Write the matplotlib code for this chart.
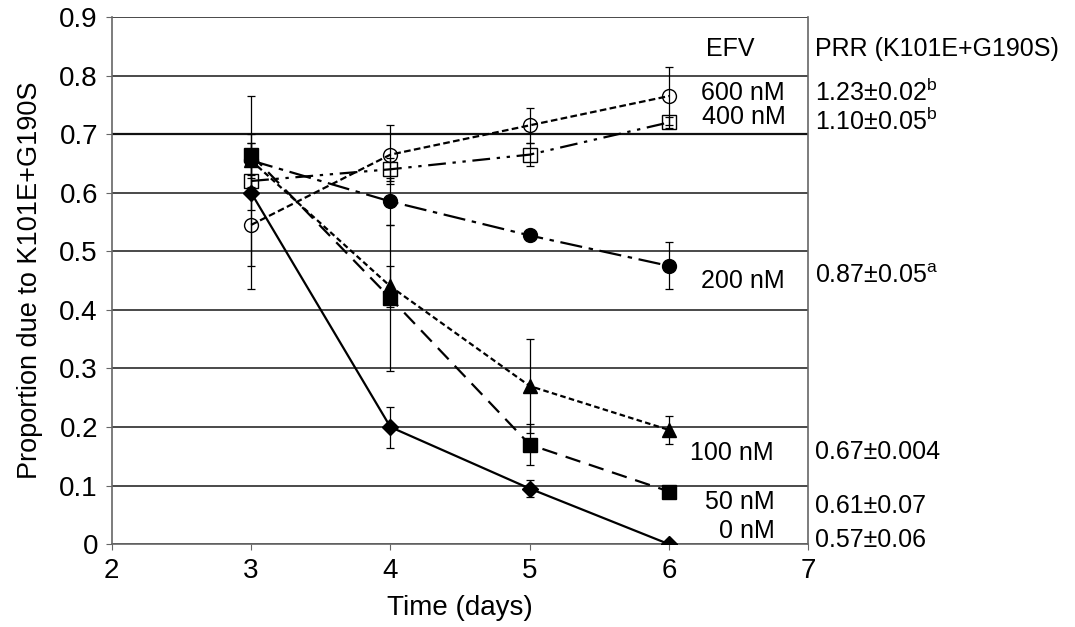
import numpy as np
import matplotlib
matplotlib.use("Agg")
import matplotlib.pyplot as plt

plt.rcParams['font.family'] = ['Liberation Sans', 'DejaVu Sans']
plt.rcParams['mathtext.fontset'] = 'custom'
plt.rcParams['mathtext.rm'] = 'Liberation Sans'

# Data
days = [3, 4, 5, 6]
efv_labels = ["600 nM", "400 nM", "200 nM", "100 nM", "50 nM", "0 nM"]
prr_labels = ["1.23±0.02$^\\mathrm{b}$", "1.10±0.05$^\\mathrm{b}$", "0.87±0.05$^\\mathrm{a}$",
              "0.67±0.004", "0.61±0.07", "0.57±0.06"]

p600 = [0.545, 0.665, 0.715, 0.765]
e600 = [0.11, 0.05, 0.03, 0.05]
p400 = [0.62, 0.64, 0.665, 0.72]
e400 = [0.145, 0.02, 0.02, 0.01]
p200 = [0.655, 0.585, 0.527, 0.475]
e200 = [0.045, 0.04, 0.008, 0.04]
p100 = [0.655, 0.44, 0.27, 0.195]
e100 = [0.03, 0.035, 0.08, 0.024]
p50 = [0.665, 0.42, 0.17, 0.09]
e50 = [0.02, 0.125, 0.035, 0.008]
p0 = [0.60, 0.20, 0.095, 0.0]
e0 = [0.03, 0.035, 0.015, 0.0]

series = [
    (p600, e600, 'o', 'none', (0, (3, 1.5))),
    (p400, e400, 's', 'none', (0, (8, 3, 1.5, 3, 1.5, 3))),
    (p200, e200, 'o', 'black', (0, (10, 3, 2, 3))),
    (p100, e100, '^', 'black', (0, (2.5, 1.5))),
    (p50, e50, 's', 'black', (0, (7, 4))),
    (p0, e0, 'D', 'black', '-'),
]

fig = plt.figure(figsize=(10.75, 6.27), dpi=100)
ax = fig.add_axes([0.104, 0.132, 0.648, 0.841])

for vals, errs, mk, fc, ls in series:
    ms = 8 if mk == 'D' else 10
    ax.errorbar(days, vals, yerr=errs, fmt='none', ecolor='black', elinewidth=0.9,
                capsize=3, capthick=0.9, zorder=2)
    ax.plot(days, vals, color='black', linestyle=ls, linewidth=1.6, marker=mk,
            markersize=ms, markerfacecolor=fc, markeredgecolor='black',
            markeredgewidth=1.0, zorder=3)

ax.set_xlim(2, 7)
ax.set_ylim(0, 0.9)
ax.set_xticks([2, 3, 4, 5, 6, 7])
ax.set_yticks(np.arange(0, 0.91, 0.1))
ax.set_yticklabels(['0', '0.1', '0.2', '0.3', '0.4', '0.5', '0.6', '0.7', '0.8', '0.9'])
ax.yaxis.grid(True, color='#3a3a3a', linewidth=1.3)
ax.get_ygridlines()[7].set_color('#111111')
ax.get_ygridlines()[7].set_linewidth(1.6)
ax.set_axisbelow(True)
for s in ['left', 'bottom', 'right']:
    ax.spines[s].set_color('#666666')
    ax.spines[s].set_linewidth(1.2)
ax.spines['top'].set_visible(False)
ax.tick_params(axis='both', labelsize=20, color='#666666', length=4, direction='out')
ax.tick_params(axis='y', pad=6)
ax.tick_params(axis='x', pad=6)
ax.set_xlabel('Time (days)', fontsize=20, labelpad=8)
ax.set_ylabel('Proportion due to K101E+G190S', fontsize=19.5, labelpad=12)

# EFV column and PRR column
efv_y = [0.771, 0.729, 0.45, 0.155, 0.072, 0.022]
efv_x = [6.83, 6.84, 6.83, 6.75, 6.76, 6.76]
prr_y = [0.771, 0.722, 0.457, 0.157, 0.065, 0.008]
ax.text(6.61, 0.845, 'EFV', fontsize=18, ha='right', va='center')
ax.text(7.05, 0.845, 'PRR (K101E+G190S)', fontsize=18, ha='left', va='center', clip_on=False)
for lab, x, y in zip(efv_labels, efv_x, efv_y):
    ax.text(x, y, lab, fontsize=18, ha='right', va='center')
for lab, y in zip(prr_labels, prr_y):
    ax.text(7.05, y, lab, fontsize=18, ha='left', va='center', clip_on=False)

fig.savefig('out.png', dpi=100)
